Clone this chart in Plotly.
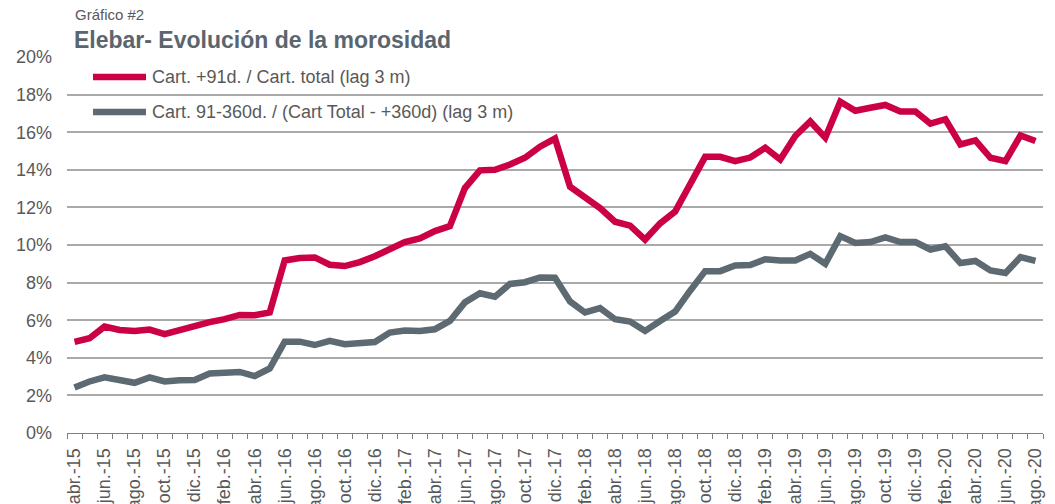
import plotly.graph_objects as go

# ---- data ----
month_abbr = ["ene.", "feb.", "mar.", "abr.", "may.", "jun.",
              "jul.", "ago.", "sep.", "oct.", "nov.", "dic."]
months = []
for year in range(2015, 2021):
    for m in range(12):
        if (year == 2015 and m < 3) or (year == 2020 and m > 7):
            continue
        months.append(f"{month_abbr[m]}-{str(year)[2:]}")

cart91_total = [4.85, 5.04, 5.66, 5.48, 5.43, 5.50, 5.26, 5.50, 5.67, 5.90, 6.06, 6.28, 6.26, 6.41,
                9.18, 9.31, 9.34, 8.95, 8.88, 9.09, 9.40, 9.81, 10.15, 10.35, 10.74, 11.00,
                13.03, 13.97, 14.00, 14.28, 14.64, 15.23, 15.66,
                13.10, 12.58, 11.96, 11.24, 11.03, 10.29, 11.15, 11.78, 13.30, 14.69, 14.69, 14.46, 14.65,
                15.17, 14.55, 15.80, 16.57, 15.71, 17.62, 17.14, 17.30, 17.45, 17.10, 17.10,
                16.46, 16.69, 15.35, 15.56, 14.64, 14.46, 15.83, 15.53]

cart91_360 = [2.42, 2.74, 2.96, 2.80, 2.67, 2.96, 2.74, 2.80, 2.82, 3.17, 3.18, 3.25, 3.03, 3.43,
              4.86, 4.86, 4.68, 4.90, 4.72, 4.81, 4.84, 5.34, 5.45, 5.43, 5.52, 5.96,
              6.95, 7.43, 7.25, 7.93, 8.02, 8.27, 8.26,
              7.00, 6.41, 6.64, 6.05, 5.93, 5.43, 5.96, 6.46, 7.57, 8.61, 8.61, 8.91, 8.94,
              9.24, 9.18, 9.18, 9.53, 9.00, 10.47, 10.11, 10.16, 10.40, 10.16, 10.16,
              9.76, 9.93, 9.04, 9.15, 8.65, 8.51, 9.36, 9.15]

series_names = ["Cart. +91d. / Cart. total (lag 3 m)",
                "Cart. 91-360d. / (Cart Total - +360d) (lag 3 m)"]
series_colors = ["#cc0044", "#5d6a72"]

y_ticks = list(range(0, 21, 2))
x_idx = list(range(len(months)))

FONT = "Liberation Sans, Arial, sans-serif"
TXT = "#595959"

fig = go.Figure()
for vals, name, col in zip([cart91_total, cart91_360], series_names, series_colors):
    fig.add_trace(go.Scatter(x=x_idx, y=vals, mode="lines", name=name,
                             line=dict(color=col, width=6.5), showlegend=False,
                             hoverinfo="skip"))

# plot area: x 67..1043, y 57..433
W, H = 1055, 504
L, R, T, B = 67, 1043, 57, 433
def px(x):
    return (x - L) / (R - L)
def py(y):
    return (B - y) / (B - T)

shapes = []
annotations = []
# legend background
shapes.append(dict(type="rect", xref="paper", yref="paper",
                   x0=px(80), x1=px(535), y0=py(128), y1=py(62),
                   fillcolor="white", line=dict(width=0), layer="between"))
for i, (name, col) in enumerate(zip(series_names, series_colors)):
    yy = [77, 112][i]
    shapes.append(dict(type="line", xref="paper", yref="paper",
                       x0=px(93), x1=px(146), y0=py(yy), y1=py(yy),
                       line=dict(color=col, width=6.5), layer="above"))
    annotations.append(dict(xref="paper", yref="paper", x=px(150), y=py(yy),
                            xanchor="left", yanchor="middle", showarrow=False,
                            text=name, font=dict(family=FONT, size=18, color=TXT)))

annotations.append(dict(xref="paper", yref="paper", x=px(73), y=py(14),
                        xanchor="left", yanchor="middle", showarrow=False,
                        text="Gráfico #2", font=dict(family=FONT, size=15, color=TXT)))
annotations.append(dict(xref="paper", yref="paper", x=px(72), y=py(40),
                        xanchor="left", yanchor="middle", showarrow=False,
                        text="<b>Elebar- Evolución de la morosidad</b>",
                        font=dict(family=FONT, size=23, color="#5b656d")))

fig.update_layout(
    width=W, height=H,
    margin=dict(l=L, r=W - R, t=T, b=H - B, pad=0),
    plot_bgcolor="white", paper_bgcolor="white",
    font=dict(family=FONT, color=TXT),
    shapes=shapes, annotations=annotations,
    showlegend=False,
)
fig.update_xaxes(
    type="linear", range=[-0.5, len(months) - 0.5],
    tickmode="array", tickvals=x_idx[::2], ticktext=months[::2],
    tickangle=-90, tickfont=dict(family=FONT, size=18, color=TXT),
    ticks="", showgrid=False, zeroline=False,
    showline=True, linecolor="#7f7f7f", linewidth=1,
    minor=dict(tickmode="array", tickvals=[i - 0.5 for i in range(len(months) + 1)],
               ticks="outside", ticklen=5, tickcolor="#7f7f7f", tickwidth=1, showgrid=False),
    ticklabelstandoff=7,
    automargin=False, fixedrange=True,
)
fig.update_yaxes(
    range=[0, 20], tickmode="array", tickvals=y_ticks,
    ticktext=[f"{v}%" for v in y_ticks],
    tickfont=dict(family=FONT, size=18, color=TXT),
    showgrid=True, gridcolor="#a9a9a9", gridwidth=2,
    zeroline=False, showline=False, ticks="",
    ticklabelstandoff=14, automargin=False, fixedrange=True,
)

fig.write_html("out.html")
